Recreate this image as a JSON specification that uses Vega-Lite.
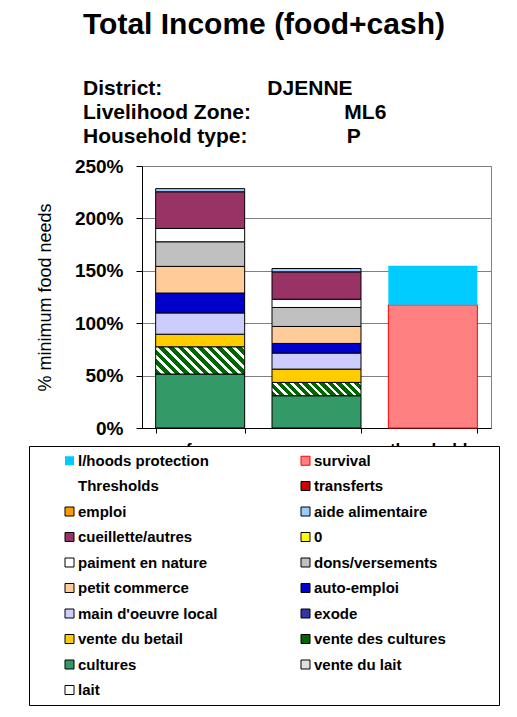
{
  "$schema": "https://vega.github.io/schema/vega-lite/v6.json",
  "width": 349,
  "height": 262,
  "padding": {"left": 28, "top": 10, "right": 5, "bottom": 5},
  "background": "white",
  "config": {"view": {"stroke": "#808080", "strokeWidth": 1}, "font": "Liberation Sans"},
  "title": {
    "text": "Total Income (food+cash)",
    "subtitle": [
      "District:\u00a0\u00a0\u00a0\u00a0\u00a0\u00a0\u00a0\u00a0\u00a0\u00a0\u00a0\u00a0\u00a0\u00a0\u00a0\u00a0\u00a0\u00a0DJENNE",
      "Livelihood Zone:\u00a0\u00a0\u00a0\u00a0\u00a0\u00a0\u00a0\u00a0\u00a0\u00a0\u00a0\u00a0\u00a0\u00a0\u00a0\u00a0ML6",
      "Household type:\u00a0\u00a0\u00a0\u00a0\u00a0\u00a0\u00a0\u00a0\u00a0\u00a0\u00a0\u00a0\u00a0\u00a0\u00a0\u00a0\u00a0P"
    ],
    "anchor": "start",
    "frame": "group",
    "dx": -59,
    "offset": 10,
    "font": "Liberation Sans",
    "fontSize": 30,
    "fontWeight": "bold",
    "color": "#000000",
    "subtitleFont": "Liberation Sans",
    "subtitleFontSize": 21,
    "subtitleFontWeight": "bold",
    "subtitleColor": "#000000",
    "subtitleLineHeight": 24,
    "subtitlePadding": 38
  },
  "data": {
    "values": [
      {"bar": "ref year", "source": "cultures", "value": 0.515, "layer": 1},
      {"bar": "ref year", "source": "vente des cultures", "value": 0.26, "layer": 2},
      {"bar": "ref year", "source": "vente du betail", "value": 0.12, "layer": 3},
      {"bar": "ref year", "source": "main d'oeuvre local", "value": 0.203, "layer": 4},
      {"bar": "ref year", "source": "auto-emploi", "value": 0.19, "layer": 5},
      {"bar": "ref year", "source": "petit commerce", "value": 0.254, "layer": 6},
      {"bar": "ref year", "source": "dons/versements", "value": 0.235, "layer": 7},
      {"bar": "ref year", "source": "paiment en nature", "value": 0.127, "layer": 8},
      {"bar": "ref year", "source": "cueillette/autres", "value": 0.35, "layer": 9},
      {"bar": "ref year", "source": "aide alimentaire", "value": 0.03, "layer": 10},
      {"bar": "curr year", "source": "cultures", "value": 0.308, "layer": 1},
      {"bar": "curr year", "source": "vente des cultures", "value": 0.127, "layer": 2},
      {"bar": "curr year", "source": "vente du betail", "value": 0.127, "layer": 3},
      {"bar": "curr year", "source": "main d'oeuvre local", "value": 0.153, "layer": 4},
      {"bar": "curr year", "source": "auto-emploi", "value": 0.092, "layer": 5},
      {"bar": "curr year", "source": "petit commerce", "value": 0.162, "layer": 6},
      {"bar": "curr year", "source": "dons/versements", "value": 0.181, "layer": 7},
      {"bar": "curr year", "source": "paiment en nature", "value": 0.079, "layer": 8},
      {"bar": "curr year", "source": "cueillette/autres", "value": 0.261, "layer": 9},
      {"bar": "curr year", "source": "aide alimentaire", "value": 0.032, "layer": 10},
      {"bar": "thresholds", "source": "survival", "value": 1.175, "layer": 1},
      {"bar": "thresholds", "source": "l/hoods protection", "value": 0.372, "layer": 2}
    ]
  },
  "mark": {"type": "bar", "strokeWidth": 1},
  "encoding": {
    "x": {
      "field": "bar", "type": "nominal",
      "sort": ["ref year", "curr year", "thresholds"],
      "scale": {"paddingInner": 0.235, "paddingOuter": 0.1175},
      "axis": {
        "title": null, "labelAngle": 0, "labelFont": "Liberation Sans", "labelFontSize": 17,
        "labelFontWeight": "bold", "labelColor": "#000000", "labelPadding": 8,
        "tickBand": "extent", "ticks": true, "tickSize": 5, "tickColor": "#000000",
        "domainColor": "#000000", "grid": false
      }
    },
    "y": {
      "field": "value", "type": "quantitative", "stack": "zero",
      "scale": {"domain": [0, 2.5], "nice": false},
      "axis": {
        "title": "% minimum food needs", "values": [0, 0.5, 1, 1.5, 2, 2.5], "format": ".0%",
        "labelFont": "Liberation Sans", "labelFontSize": 19, "labelFontWeight": "bold",
        "labelColor": "#000000", "labelPadding": 13, "tickSize": 6, "tickColor": "#000000",
        "domainColor": "#000000", "gridColor": "#808080", "gridOpacity": 1,
        "titleFont": "Liberation Sans", "titleFontSize": 18, "titleFontWeight": "normal",
        "titleColor": "#000000", "titlePadding": 20
      }
    },
    "order": {"field": "layer", "type": "quantitative"},
    "fill": {
      "condition": [
        {
          "test": "datum.bar === 'ref year' && datum.source === 'vente des cultures'",
          "value": {
            "gradient": "linear", "x1": 0, "y1": 1, "x2": 1.194, "y2": 0.635,
            "stops": [
              {"offset": 0, "color": "#006600"}, {"offset": 0.05, "color": "#006600"}, {"offset": 0.05, "color": "#FFFFFF"}, {"offset": 0.0833, "color": "#FFFFFF"},
              {"offset": 0.0833, "color": "#006600"}, {"offset": 0.1333, "color": "#006600"}, {"offset": 0.1333, "color": "#FFFFFF"}, {"offset": 0.1667, "color": "#FFFFFF"},
              {"offset": 0.1667, "color": "#006600"}, {"offset": 0.2167, "color": "#006600"}, {"offset": 0.2167, "color": "#FFFFFF"}, {"offset": 0.25, "color": "#FFFFFF"},
              {"offset": 0.25, "color": "#006600"}, {"offset": 0.3, "color": "#006600"}, {"offset": 0.3, "color": "#FFFFFF"}, {"offset": 0.3333, "color": "#FFFFFF"},
              {"offset": 0.3333, "color": "#006600"}, {"offset": 0.3833, "color": "#006600"}, {"offset": 0.3833, "color": "#FFFFFF"}, {"offset": 0.4167, "color": "#FFFFFF"},
              {"offset": 0.4167, "color": "#006600"}, {"offset": 0.4667, "color": "#006600"}, {"offset": 0.4667, "color": "#FFFFFF"}, {"offset": 0.5, "color": "#FFFFFF"},
              {"offset": 0.5, "color": "#006600"}, {"offset": 0.55, "color": "#006600"}, {"offset": 0.55, "color": "#FFFFFF"}, {"offset": 0.5833, "color": "#FFFFFF"},
              {"offset": 0.5833, "color": "#006600"}, {"offset": 0.6333, "color": "#006600"}, {"offset": 0.6333, "color": "#FFFFFF"}, {"offset": 0.6667, "color": "#FFFFFF"},
              {"offset": 0.6667, "color": "#006600"}, {"offset": 0.7167, "color": "#006600"}, {"offset": 0.7167, "color": "#FFFFFF"}, {"offset": 0.75, "color": "#FFFFFF"},
              {"offset": 0.75, "color": "#006600"}, {"offset": 0.8, "color": "#006600"}, {"offset": 0.8, "color": "#FFFFFF"}, {"offset": 0.8333, "color": "#FFFFFF"},
              {"offset": 0.8333, "color": "#006600"}, {"offset": 0.8833, "color": "#006600"}, {"offset": 0.8833, "color": "#FFFFFF"}, {"offset": 0.9167, "color": "#FFFFFF"},
              {"offset": 0.9167, "color": "#006600"}, {"offset": 0.9667, "color": "#006600"}, {"offset": 0.9667, "color": "#FFFFFF"}, {"offset": 1, "color": "#FFFFFF"}
            ]
          }
        },
        {
          "test": "datum.bar === 'curr year' && datum.source === 'vente des cultures'",
          "value": {
            "gradient": "linear", "x1": 0, "y1": 1, "x2": 1.124, "y2": 0.832,
            "stops": [
              {"offset": 0, "color": "#006600"}, {"offset": 0.05, "color": "#006600"}, {"offset": 0.05, "color": "#FFFFFF"}, {"offset": 0.0833, "color": "#FFFFFF"},
              {"offset": 0.0833, "color": "#006600"}, {"offset": 0.1333, "color": "#006600"}, {"offset": 0.1333, "color": "#FFFFFF"}, {"offset": 0.1667, "color": "#FFFFFF"},
              {"offset": 0.1667, "color": "#006600"}, {"offset": 0.2167, "color": "#006600"}, {"offset": 0.2167, "color": "#FFFFFF"}, {"offset": 0.25, "color": "#FFFFFF"},
              {"offset": 0.25, "color": "#006600"}, {"offset": 0.3, "color": "#006600"}, {"offset": 0.3, "color": "#FFFFFF"}, {"offset": 0.3333, "color": "#FFFFFF"},
              {"offset": 0.3333, "color": "#006600"}, {"offset": 0.3833, "color": "#006600"}, {"offset": 0.3833, "color": "#FFFFFF"}, {"offset": 0.4167, "color": "#FFFFFF"},
              {"offset": 0.4167, "color": "#006600"}, {"offset": 0.4667, "color": "#006600"}, {"offset": 0.4667, "color": "#FFFFFF"}, {"offset": 0.5, "color": "#FFFFFF"},
              {"offset": 0.5, "color": "#006600"}, {"offset": 0.55, "color": "#006600"}, {"offset": 0.55, "color": "#FFFFFF"}, {"offset": 0.5833, "color": "#FFFFFF"},
              {"offset": 0.5833, "color": "#006600"}, {"offset": 0.6333, "color": "#006600"}, {"offset": 0.6333, "color": "#FFFFFF"}, {"offset": 0.6667, "color": "#FFFFFF"},
              {"offset": 0.6667, "color": "#006600"}, {"offset": 0.7167, "color": "#006600"}, {"offset": 0.7167, "color": "#FFFFFF"}, {"offset": 0.75, "color": "#FFFFFF"},
              {"offset": 0.75, "color": "#006600"}, {"offset": 0.8, "color": "#006600"}, {"offset": 0.8, "color": "#FFFFFF"}, {"offset": 0.8333, "color": "#FFFFFF"},
              {"offset": 0.8333, "color": "#006600"}, {"offset": 0.8833, "color": "#006600"}, {"offset": 0.8833, "color": "#FFFFFF"}, {"offset": 0.9167, "color": "#FFFFFF"},
              {"offset": 0.9167, "color": "#006600"}, {"offset": 0.9667, "color": "#006600"}, {"offset": 0.9667, "color": "#FFFFFF"}, {"offset": 1, "color": "#FFFFFF"}
            ]
          }
        }
      ],
      "field": "source", "type": "nominal",
      "scale": {
        "domain": ["l/hoods protection", "Thresholds", "emploi", "cueillette/autres", "paiment en nature", "petit commerce", "main d'oeuvre local", "vente du betail", "cultures", "lait", "survival", "transferts", "aide alimentaire", "0", "dons/versements", "auto-emploi", "exode", "vente des cultures", "vente du lait"],
        "range": ["#00CCFF", "transparent", "#FF9900", "#993366", "#FFFFFF", "#FFCC99", "#CCCCFF", "#FFCC00", "#339966", "#FFFFFF", "#FF8080", "#CC0000", "#99CCFF", "#FFFF00", "#C0C0C0", "#0000CC", "#3333AA", "#006600", "#E0E0E0"]
      },
      "legend": {
        "orient": "none", "legendX": -113, "legendY": 280,
        "columns": 2, "columnPadding": 54, "rowPadding": 9.5, "padding": 7,
        "strokeColor": "#000000", "fillColor": "#FFFFFF",
        "symbolType": "square", "symbolSize": 81, "symbolStrokeWidth": 1,
        "symbolOffset": 26,
        "labelFont": "Liberation Sans", "labelFontSize": 15, "labelFontWeight": "bold",
        "labelColor": "#000000", "labelLimit": 400, "labelOffset": 1,
        "title": "\u00a0", "titleOrient": "right", "titleFontSize": 1, "titlePadding": 46,
        "encoding": {
          "symbols": {
            "stroke": {
              "condition": [
                {"test": "datum.value === 'survival'", "value": "#FF0000"},
                {"test": "datum.value === 'l/hoods protection' || datum.value === 'Thresholds'", "value": "transparent"}
              ],
              "value": "#000000"
            },
            "fill": {
              "condition": {"test": "datum.value === 'vente des cultures'", "value": {"gradient": "linear", "x1": 0, "y1": 1, "x2": 1, "y2": 0, "stops": [{"offset": 0, "color": "#006600"}, {"offset": 0.42, "color": "#006600"}, {"offset": 0.42, "color": "#FFFFFF"}, {"offset": 0.62, "color": "#FFFFFF"}, {"offset": 0.62, "color": "#006600"}, {"offset": 1, "color": "#006600"}]}},
              "value": {"expr": "scale('fill', datum.value)"}
            }
          }
        }
      }
    },
    "stroke": {
      "condition": [
        {"test": "datum.source === 'survival'", "value": "#FF0000"},
        {"test": "datum.source === 'l/hoods protection'", "value": "transparent"}
      ],
      "value": "#000000"
    }
  }
}
